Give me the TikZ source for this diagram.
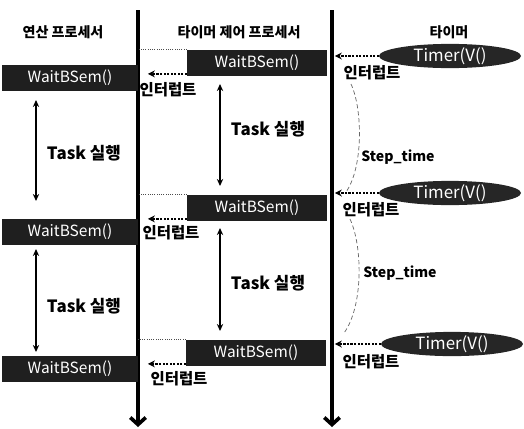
\documentclass[tikz,border=0pt]{standalone}
\usepackage{fontspec}
\setmainfont{Noto Sans CJK KR}
\usetikzlibrary{arrows.meta,positioning,shapes.geometric}

\begin{document}
\begin{tikzpicture}[
  x=0.025cm, y=-0.025cm,
  lbox/.style={rectangle, fill=black!88, text=white, minimum width=3.375cm,
               minimum height=0.65cm, inner sep=0pt,
               font=\fontsize{11}{12}\selectfont},
  rbox/.style={lbox, minimum width=3.5cm, minimum height=0.67cm},
  tmr/.style={ellipse, fill=black!85, text=white, minimum width=3.55cm,
              minimum height=0.6cm, inner sep=0pt,
              font=\fontsize{12}{13}\selectfont},
  head/.style={font=\bfseries\fontsize{10}{11}\selectfont},
  intlbl/.style={font=\bfseries\fontsize{11}{12}\selectfont, inner sep=0pt},
  tasklbl/.style={font=\bfseries\fontsize{12}{13}\selectfont},
  steplbl/.style={font=\bfseries\fontsize{10}{11}\selectfont},
  timeline/.style={line width=2.6pt, -{Straight Barb[length=5pt,width=11pt]}},
  taskspan/.style={line width=1.5pt,
                   {Stealth[length=5pt,width=4.5pt]}-{Stealth[length=5pt,width=4.5pt]}},
  intr/.style={line width=1pt, dash pattern=on 1.5pt off 1pt,
               -{Stealth[length=5pt,width=5pt]}},
  sync/.style={densely dotted, black!70, line width=0.6pt},
  steps/.style={densely dashed, black!60, line width=0.5pt},
  >=Stealth
]
  \useasboundingbox (0,0) rectangle (524,428);

  % Column headers
  \node[head] (hcpu) at (63,32)  {연산 프로세서};
  \node[head] (hctl) at (239,32) {타이머 제어 프로세서};
  \node[head] (htmr) at (449,32) {타이머};

  % Time lines
  \coordinate (p1top) at (138,10);
  \coordinate (p1bot) at (138,427);
  \coordinate (p2top) at (332,10);
  \coordinate (p2bot) at (332,427);
  \draw[timeline] (p1top) -- (p1bot);
  \draw[timeline] (p2top) -- (p2bot);

  % Boxes of the computing processor
  \node[lbox] (lb1) at (70,78)  {WaitBSem()};
  \node[lbox] (lb2) at (70,232) {WaitBSem()};
  \node[lbox] (lb3) at (70,369) {WaitBSem()};

  % Boxes of the timer control processor
  \node[rbox] (rb1) at (257,63)  {WaitBSem()};
  \node[rbox] (rb2) at (257,208) {WaitBSem()};
  \node[rbox] (rb3) at (256,353) {WaitBSem()};

  % Timer events
  \node[tmr] (tm1) at (450,56)  {Timer(V()};
  \node[tmr] (tm2) at (450,193) {Timer(V()};
  \node[tmr] (tm3) at (452,344) {Timer(V()};

  % Interrupts from the timer
  \draw[intr, shorten >=2pt] (tm1.west) -- (tm1.west -| p2top);
  \draw[intr, shorten >=2pt] (tm2.west) -- (tm2.west -| p2top);
  \draw[intr, shorten >=2pt] (tm3.west) -- (tm3.west -| p2top);
  \node[intlbl] (ir1) at (372,73)  {인터럽트};
  \node[intlbl] (ir2) at (371,210) {인터럽트};
  \node[intlbl] (ir3) at (371,362) {인터럽트};

  % Interrupts to the computing processor
  \draw[sync] (rb1.north west) -- (rb1.north west -| p1top);
  \draw[sync] (rb2.north west) -- (rb2.north west -| p1top);
  \draw[sync] (rb3.north west) -- (rb3.north west -| p1top);
  \draw[intr, shorten >=7pt] ([yshift=2pt]rb1.south west) -- ([yshift=2pt]rb1.south west -| p1top);
  \draw[intr, shorten >=7pt] ([yshift=2pt]rb2.south west) -- ([yshift=2pt]rb2.south west -| p1top);
  \draw[intr, shorten >=7pt] ([yshift=2pt]rb3.south west) -- ([yshift=2pt]rb3.south west -| p1top);
  \node[intlbl] (il1) at (168,90)  {인터럽트};
  \node[intlbl] (il2) at (171,233) {인터럽트};
  \node[intlbl] (il3) at (179,379) {인터럽트};

  % Task runs
  \coordinate (ta1) at (36,100);  \coordinate (tb1) at (36,201);
  \coordinate (ta2) at (36,249);  \coordinate (tb2) at (36,352);
  \coordinate (tc1) at (220,84);  \coordinate (td1) at (220,186);
  \coordinate (tc2) at (220,228); \coordinate (td2) at (220,331);
  \draw[taskspan] (ta1) -- (tb1);
  \draw[taskspan] (ta2) -- (tb2);
  \draw[taskspan] (tc1) -- (td1);
  \draw[taskspan] (tc2) -- (td2);
  \node[tasklbl] (tk1) at (84,153)  {Task 실행};
  \node[tasklbl] (tk2) at (84,306)  {Task 실행};
  \node[tasklbl] (tk3) at (268,129) {Task 실행};
  \node[tasklbl] (tk4) at (268,283) {Task 실행};

  % Step time
  \coordinate (sa1) at (351,84);  \coordinate (sb1) at (346,192);
  \coordinate (sa2) at (350,219); \coordinate (sb2) at (344,333);
  \draw[steps] (sa1) .. controls (363,110) and (363,168) .. (sb1);
  \draw[steps] (sa2) .. controls (363,247) and (363,307) .. (sb2);
  \node[steplbl] (st1) at (398,157) {Step\_time};
  \node[steplbl] (st2) at (400,273) {Step\_time};
\end{tikzpicture}
\end{document}
